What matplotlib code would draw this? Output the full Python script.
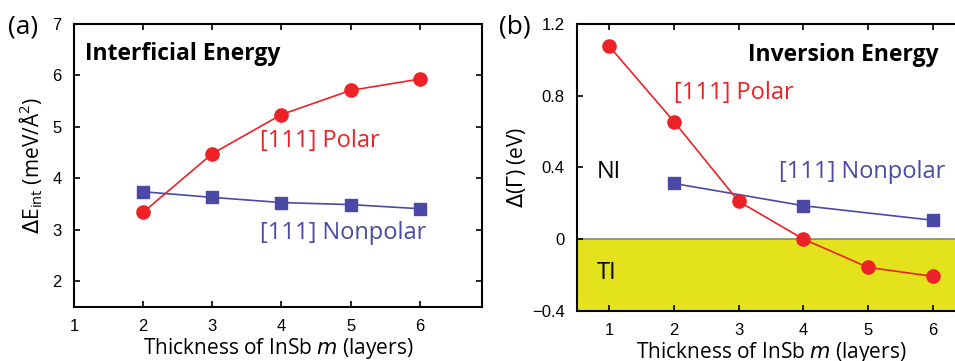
import matplotlib.pyplot as plt

# panel (a): interface energy
m_a = [2, 3, 4, 5, 6]
polar_a = [3.34, 4.48, 5.24, 5.71, 5.93]
nonpolar_a = [3.74, 3.63, 3.53, 3.49, 3.41]

# panel (b): inversion energy
m_polar_b = [1, 2, 3, 4, 5, 6]
polar_b = [1.075, 0.655, 0.21, 0.0, -0.158, -0.208]
m_nonpolar_b = [2, 4, 6]
nonpolar_b = [0.31, 0.186, 0.105]

red = '#ec2227'
blue = '#4a4aa6'
yellow = '#e3e21c'
lab_font = 'Open Sans'
tick_font = 'Liberation Sans'

fig = plt.figure(figsize=(9.55, 3.61), dpi=100)
ax1 = fig.add_axes([0.0775, 0.1496, 0.4272, 0.7839])
ax2 = fig.add_axes([0.6042, 0.1393, 0.4063, 0.7942])

for ax in (ax1, ax2):
    ax.tick_params(direction='in', length=4, width=1.2, top=True, right=True,
                   labelsize=12, pad=9)
    for s in ax.spines.values():
        s.set_linewidth(1.5)
    for lab in ax.get_xticklabels() + ax.get_yticklabels():
        lab.set_fontfamily(tick_font)

# (a)
ax1.plot(m_a, polar_a, '-o', color=red, lw=1.2, ms=9.5, zorder=3)
ax1.plot(m_a, nonpolar_a, '-s', color=blue, lw=1.2, ms=9, zorder=2)
ax1.set_xlim(1, 6.9)
ax1.set_ylim(1.5, 7)
ax1.set_xticks([1, 2, 3, 4, 5, 6])
ax1.set_yticks([2, 3, 4, 5, 6, 7])
ax1.set_xlabel('Thickness of InSb $m$ (layers)', fontsize=15, family=lab_font, labelpad=1)
ax1.set_ylabel(r'$\Delta$E$_\mathregular{int}$ (meV/Å$^\mathregular{2}$)', fontsize=15,
               family=lab_font, labelpad=5)
ax1.text(0.028, 0.935, 'Interficial Energy', transform=ax1.transAxes, fontsize=16.5,
         fontweight='bold', family=lab_font, va='top')
ax1.text(0.455, 0.585, '[111] Polar', transform=ax1.transAxes, fontsize=17,
         color=red, family=lab_font, va='center')
ax1.text(0.455, 0.26, '[111] Nonpolar', transform=ax1.transAxes, fontsize=17,
         color=blue, family=lab_font, va='center')
fig.text(0.008, 0.925, '(a)', fontsize=19, family=lab_font, va='center')

# (b)
ax2.axhspan(-0.4, 0, color=yellow, zorder=0)
ax2.axhline(0, color='#888888', lw=1.2, zorder=1)
ax2.plot(m_polar_b, polar_b, '-o', color=red, lw=1.2, ms=9.5, zorder=3)
ax2.plot(m_nonpolar_b, nonpolar_b, '-s', color=blue, lw=1.2, ms=9, zorder=2)
ax2.set_xlim(0.5, 6.5)
ax2.set_ylim(-0.4, 1.2)
ax2.set_xticks([1, 2, 3, 4, 5, 6])
ax2.set_yticks([-0.4, 0, 0.4, 0.8, 1.2])
ax2.set_yticklabels(['\u22120.4', '0', '0.4', '0.8', '1.2'], family=tick_font)
ax2.set_xlabel('Thickness of InSb $m$ (layers)', fontsize=15, family=lab_font, labelpad=1)
ax2.set_ylabel(r'$\Delta$($\Gamma$) (eV)', fontsize=15, family=lab_font, labelpad=3)
ax2.text(0.44, 0.935, 'Inversion Energy', transform=ax2.transAxes, fontsize=16.5,
         fontweight='bold', family=lab_font, va='top')
ax2.text(0.25, 0.76, '[111] Polar', transform=ax2.transAxes, fontsize=17,
         color=red, family=lab_font, va='center')
ax2.text(0.52, 0.485, '[111] Nonpolar', transform=ax2.transAxes, fontsize=17,
         color=blue, family=lab_font, va='center')
ax2.text(0.05, 0.485, 'NI', transform=ax2.transAxes, fontsize=17,
         family=lab_font, va='center')
ax2.text(0.05, 0.13, 'TI', transform=ax2.transAxes, fontsize=17,
         family=lab_font, va='center')
fig.text(0.522, 0.925, '(b)', fontsize=19, family=lab_font, va='center')

fig.savefig('out.png', dpi=100)
